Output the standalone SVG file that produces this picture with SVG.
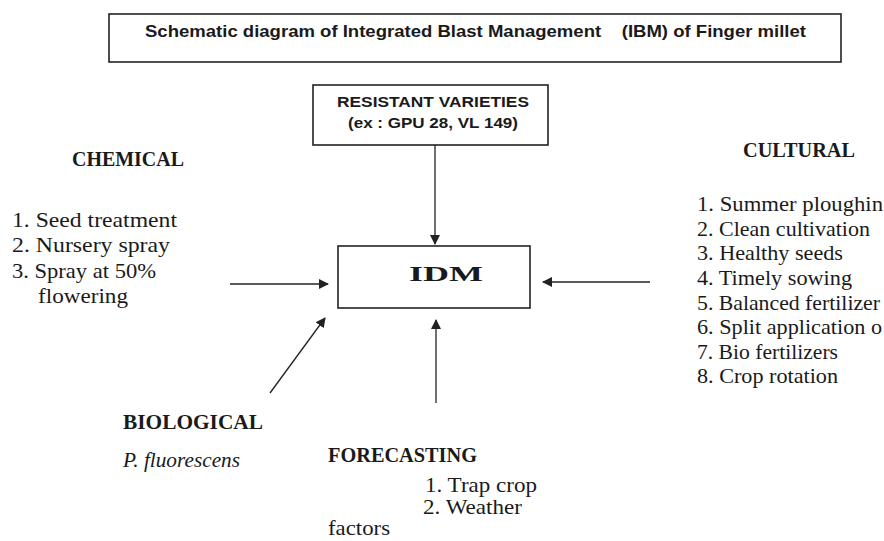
<svg xmlns="http://www.w3.org/2000/svg" width="884" height="541" viewBox="0 0 884 541">
<defs>
<style>
.box{fill:none;stroke:#222;stroke-width:1.6}
.ln{stroke:#222;stroke-width:1.3;fill:none}
.sans{font-family:"Liberation Sans",Arial,sans-serif;font-weight:bold;fill:#1a1a1a}
.serif{font-family:"Liberation Serif","Times New Roman",serif;fill:#1a1a1a;font-size:21px}
.hd{font-weight:bold}
</style>
<marker id="ah" viewBox="0 0 10 10" refX="9" refY="5" markerWidth="10" markerHeight="10" markerUnits="userSpaceOnUse" orient="auto">
<path d="M0,0 L10,5 L0,10 z" fill="#222"/>
</marker>
</defs>
<rect width="884" height="541" fill="#fff"/>
<g id="title">
<rect class="box" x="109" y="14" width="732" height="48"/>
<text class="sans" x="145" y="37" font-size="17" xml:space="preserve" textLength="661" lengthAdjust="spacingAndGlyphs">Schematic diagram of Integrated Blast Management    (IBM) of Finger millet</text>
</g>
<g id="resistant">
<rect class="box" x="313" y="85" width="235" height="60"/>
<text class="sans" x="337" y="107" font-size="15" textLength="192" lengthAdjust="spacingAndGlyphs">RESISTANT VARIETIES</text>
<text class="sans" x="348" y="128" font-size="14" textLength="170" lengthAdjust="spacingAndGlyphs">(ex : GPU 28, VL 149)</text>
</g>
<g id="idm">
<rect class="box" x="338" y="246" width="192" height="62"/>
<text class="serif hd" x="409" y="281" font-size="26" textLength="74" lengthAdjust="spacingAndGlyphs">IDM</text>
</g>
<g id="chemical">
<text class="serif hd" x="72" y="166" textLength="112" lengthAdjust="spacingAndGlyphs">CHEMICAL</text>
<text class="serif" x="12" y="227" textLength="165" lengthAdjust="spacingAndGlyphs">1. Seed treatment</text>
<text class="serif" x="12" y="252" textLength="158" lengthAdjust="spacingAndGlyphs">2. Nursery spray</text>
<text class="serif" x="12" y="278" textLength="144" lengthAdjust="spacingAndGlyphs">3. Spray at 50%</text>
<text class="serif" x="38" y="303" textLength="90" lengthAdjust="spacingAndGlyphs">flowering</text>
</g>
<g id="cultural">
<text class="serif hd" x="743" y="157" textLength="112" lengthAdjust="spacingAndGlyphs">CULTURAL</text>
<text class="serif" x="697" y="211" textLength="186" lengthAdjust="spacingAndGlyphs">1. Summer ploughin</text>
<text class="serif" x="697" y="236" textLength="173" lengthAdjust="spacingAndGlyphs">2. Clean cultivation</text>
<text class="serif" x="697" y="260" textLength="146" lengthAdjust="spacingAndGlyphs">3. Healthy seeds</text>
<text class="serif" x="697" y="285" textLength="155" lengthAdjust="spacingAndGlyphs">4. Timely sowing</text>
<text class="serif" x="697" y="310" textLength="183" lengthAdjust="spacingAndGlyphs">5. Balanced fertilizer</text>
<text class="serif" x="697" y="334" textLength="185" lengthAdjust="spacingAndGlyphs">6. Split application o</text>
<text class="serif" x="697" y="359" textLength="141" lengthAdjust="spacingAndGlyphs">7. Bio fertilizers</text>
<text class="serif" x="697" y="383" textLength="141" lengthAdjust="spacingAndGlyphs">8. Crop rotation</text>
</g>
<g id="biological">
<text class="serif hd" x="123" y="429" textLength="140" lengthAdjust="spacingAndGlyphs">BIOLOGICAL</text>
<text class="serif" x="123" y="467" font-style="italic" textLength="117" lengthAdjust="spacingAndGlyphs">P. fluorescens</text>
</g>
<g id="forecasting">
<text class="serif hd" x="328" y="462" textLength="149" lengthAdjust="spacingAndGlyphs">FORECASTING</text>
<text class="serif" x="425" y="492" font-size="19" textLength="112" lengthAdjust="spacingAndGlyphs">1. Trap crop</text>
<text class="serif" x="423" y="514" font-size="19" textLength="99" lengthAdjust="spacingAndGlyphs">2. Weather</text>
<text class="serif" x="328" y="535" font-size="19" textLength="62" lengthAdjust="spacingAndGlyphs">factors</text>
</g>
<g id="connectors">
<line class="ln" x1="435" y1="145" x2="435" y2="244" marker-end="url(#ah)"/>
<line class="ln" x1="230" y1="284" x2="328" y2="284" marker-end="url(#ah)"/>
<line class="ln" x1="650" y1="282" x2="543" y2="282" marker-end="url(#ah)"/>
<line class="ln" x1="270" y1="393" x2="325" y2="318" marker-end="url(#ah)"/>
<line class="ln" x1="436" y1="403" x2="436" y2="320" marker-end="url(#ah)"/>
</g>
</svg>
